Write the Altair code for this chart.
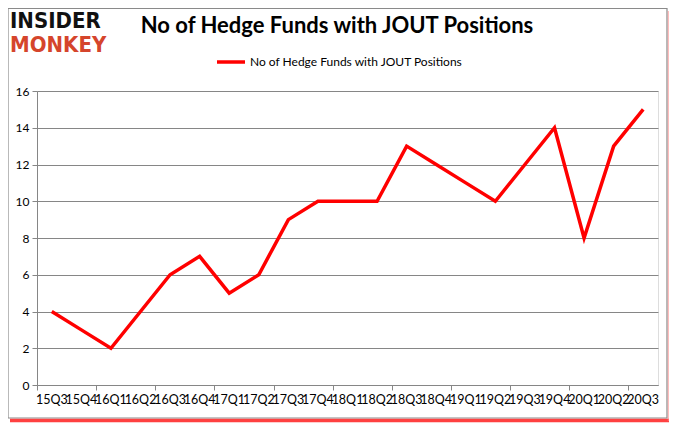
import altair as alt
import pandas as pd

quarters = ["15Q3", "15Q4", "16Q1", "16Q2", "16Q3", "16Q4", "17Q1", "17Q2", "17Q3", "17Q4",
            "18Q1", "18Q2", "18Q3", "18Q4", "19Q1", "19Q2", "19Q3", "19Q4", "20Q1", "20Q2", "20Q3"]
funds = [4, 3, 2, 4, 6, 7, 5, 6, 9, 10, 10, 10, 13, 12, 11, 10, 12, 14, 8, 13, 15]
y_ticks = [0, 2, 4, 6, 8, 10, 12, 14, 16]

title_text = "No of Hedge Funds with JOUT Positions"
series_name = "No of Hedge Funds with JOUT Positions"

df = pd.DataFrame({"q": quarters, "v": funds, "pos": [i + 0.5 for i in range(len(quarters))]})

W, H = 621, 294
FONT = "Lato"
LOGO_FONT = "'Liberation Sans Narrow', 'DejaVu Sans Condensed', sans-serif"

xscale = alt.Scale(domain=[0, len(quarters)], nice=False, zero=False)
yscale = alt.Scale(domain=[0, 16], nice=False)

line = alt.Chart(df).mark_line(color="#ff0000", strokeWidth=3.5).encode(
    x=alt.X("pos:Q", scale=xscale,
            axis=alt.Axis(values=list(range(len(quarters) + 1)), labels=False, title=None,
                          grid=False, domainColor="#868686", tickColor="#868686", tickSize=5)),
    y=alt.Y("v:Q", scale=yscale,
            axis=alt.Axis(values=y_ticks, title=None, grid=True, gridColor="#868686",
                          domainColor="#868686", tickColor="#868686", tickSize=5,
                          labelFont=FONT, labelFontSize=12, labelColor="#000000", labelPadding=3)),
)

xlabels = alt.Chart(df).mark_text(font=FONT, fontSize=12.5, color="#000000", baseline="middle").encode(
    x=alt.X("pos:Q", scale=xscale),
    text="q:N",
    y=alt.value(H + 15),
)

one = pd.DataFrame({"a": [0]})

title = alt.Chart(one).mark_text(font=FONT, fontSize=22, fontWeight="bold", color="#000000",
                                  align="center", baseline="middle").encode(
    x=alt.value(300), y=alt.value(-65), text=alt.value(title_text))

leg_line = alt.Chart(one).mark_rule(color="#ff0000", strokeWidth=3.5).encode(
    x=alt.value(180), x2=alt.value(208), y=alt.value(-29))
leg_text = alt.Chart(one).mark_text(font=FONT, fontSize=12, color="#000000", align="left",
                                     baseline="middle").encode(
    x=alt.value(213), y=alt.value(-29), text=alt.value(series_name))

logo1 = alt.Chart(one).mark_text(font=LOGO_FONT, fontSize=22, fontWeight="bold", color="#111111",
                                  align="left", baseline="middle").encode(
    x=alt.value(-27), y=alt.value(-70), text=alt.value("INSIDER"))
logo2 = alt.Chart(one).mark_text(font=LOGO_FONT, fontSize=22, fontWeight="bold", color="#d5452c",
                                  align="left", baseline="middle").encode(
    x=alt.value(-27), y=alt.value(-46), text=alt.value("MONKEY"))

border = alt.Chart(one).mark_rect(fill=None, stroke="#8a8a8a", strokeWidth=1.2).encode(
    x=alt.value(-29), x2=alt.value(630), y=alt.value(-82.5), y2=alt.value(327))
shadow_b = alt.Chart(one).mark_rule(color="#ff2020", strokeWidth=3.5, opacity=0.85).encode(
    x=alt.value(-27), x2=alt.value(632), y=alt.value(329.5))
shadow_r = alt.Chart(one).mark_rule(color="#ff9090", strokeWidth=2.5, opacity=0.6).encode(
    x=alt.value(632), y=alt.value(-80), y2=alt.value(330))

chart = alt.layer(border, shadow_b, shadow_r, line, xlabels, title, leg_line, leg_text,
                  logo1, logo2).properties(
    width=W, height=H,
    autosize=alt.AutoSizeParams(type="none"),
    padding={"left": 29, "top": 83, "right": 11, "bottom": 38},
).configure_view(stroke=None).configure(background="#ffffff")

chart.save("out.html", embed_options={"renderer": "svg", "actions": False})
